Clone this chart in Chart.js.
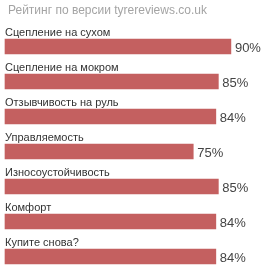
<!DOCTYPE html>
<html>
<head>
<meta charset="utf-8">
<script src="https://cdn.jsdelivr.net/npm/chart.js@4"></script>
<style>
  html, body { margin: 0; padding: 0; background: #fff; }
  #wrap { width: 264px; height: 266px; }
</style>
</head>
<body>
<div id="wrap"><canvas id="chart-rating"></canvas></div>
<script>
const titleText = "Рейтинг по версии tyrereviews.co.uk";
const categories = [
  "Сцепление на сухом",
  "Сцепление на мокром",
  "Отзывчивость на руль",
  "Управляемость",
  "Износоустойчивость",
  "Комфорт",
  "Купите снова?",
];
const scores = [90, 85, 84, 75, 85, 84, 84];

const FONT = "'Liberation Sans', Arial, sans-serif";

const labelPlugin = {
  id: "labels",
  afterDatasetsDraw(chart) {
    const ctx = chart.ctx;
    const meta = chart.getDatasetMeta(0);
    ctx.save();
    ctx.textBaseline = "alphabetic";
    ctx.textAlign = "left";
    ctx.fillStyle = "#a4a4a4";
    ctx.font = "12px " + FONT;
    ctx.fillText(titleText, 8, 14);
    meta.data.forEach((bar, i) => {
      const top = bar.y - bar.height / 2;
      ctx.fillStyle = "#333";
      ctx.font = "11px " + FONT;
      ctx.fillText(categories[i], 5, top - 3);
      ctx.fillStyle = "#444";
      ctx.font = "13px " + FONT;
      ctx.fillText(scores[i] + "%", bar.x + 4, bar.y + 5);
    });
    ctx.restore();
  },
};

new Chart(document.getElementById("chart-rating").getContext("2d"), {
  type: "bar",
  data: {
    labels: categories,
    datasets: [
      {
        data: scores,
        backgroundColor: "#c46060",
        barThickness: 15,
        clip: false,
      },
    ],
  },
  options: {
    indexAxis: "y",
    responsive: true,
    maintainAspectRatio: false,
    animation: false,
    layout: { padding: { left: 5, right: 8, top: 46.5, bottom: 9.5 } },
    scales: {
      x: { display: false, min: 0, max: 100 },
      y: { display: false, offset: false },
    },
    plugins: { legend: { display: false }, tooltip: { enabled: false } },
  },
  plugins: [labelPlugin],
});
</script>
</body>
</html>
